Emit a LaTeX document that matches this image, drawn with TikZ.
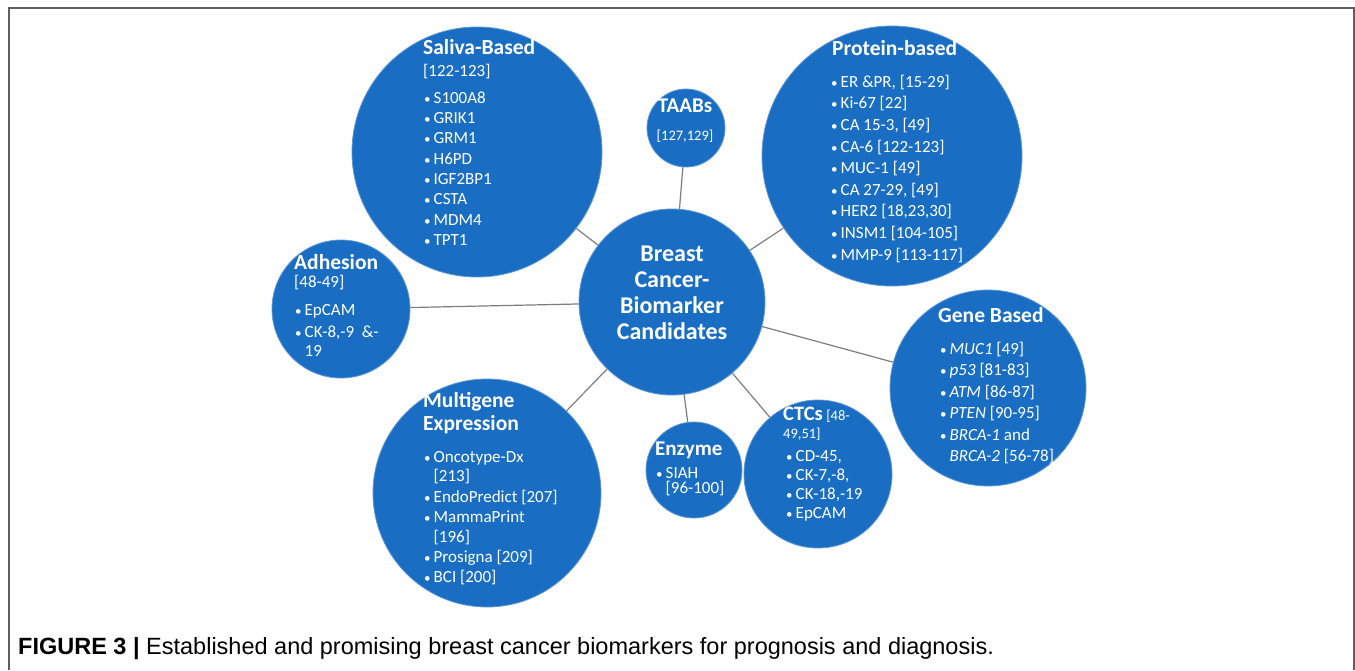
\documentclass[tikz,border=0pt]{standalone}
\usepackage{fontspec}
\setmainfont{Carlito}
\newfontfamily\capfont{Liberation Sans}
\definecolor{bub}{RGB}{25,110,195}
\definecolor{bubedge}{RGB}{95,150,210}
\definecolor{conn}{RGB}{125,125,125}
\definecolor{frm}{RGB}{95,95,95}
\newcommand\bul{\makebox[9.5pt][l]{\fontsize{13}{13}\selectfont\textbullet}}
\begin{document}
\begin{tikzpicture}[x=1pt,y=-1pt,
  bubble/.style={circle,fill=bub,draw=bubedge,line width=0.8pt,inner sep=0,minimum size=#1},
  link/.style={draw=conn,line width=1.2pt},
  txt/.style={inner sep=0,text=white},
  ttl/.style={txt,anchor=mid west,font=\fontsize{21.5}{24}\selectfont\bfseries},
  itm/.style={txt,anchor=mid west,font=\fontsize{17}{20}\selectfont},
  sml/.style={txt,font=\fontsize{14.5}{16}\selectfont},
  ctrtxt/.style={txt,anchor=mid,font=\fontsize{24}{26}\selectfont\bfseries}
]
\useasboundingbox (0,0) rectangle (1355,670);
\draw[frm,line width=1.5pt] (9,670) -- (9,8) -- (1354,8) -- (1354,670);

% bubbles
\node[bubble=186] (ctr) at (672,302) {};
\node[bubble=250] (sal) at (477,152) {};
\node[bubble=260] (pro) at (892,156) {};
\node[bubble=78]  (taab) at (686,128) {};
\node[bubble=138] (adh) at (341,309) {};
\node[bubble=196] (gene) at (988,388) {};
\node[bubble=228] (mul) at (487,493) {};
\node[bubble=96]  (enz) at (694,470) {};
\node[bubble=148] (ctc) at (818,474) {};

% connectors
\foreach \b in {sal,pro,taab,adh,gene,mul,enz,ctc}
  \draw[link] (ctr) -- (\b);

% centre
\node[ctrtxt] (c1) at (672,259) {Breast};
\node[ctrtxt] (c2) at (672,285) {Cancer-};
\node[ctrtxt] (c3) at (672,311) {Biomarker};
\node[ctrtxt] (c4) at (672,337) {Candidates};

% saliva
\node[ttl] (salt) at (423,52) {Saliva-Based};
\node[itm] (salr) at (423,74) {[122-123]};
\foreach \t [count=\k from 0] in {S100A8,GRIK1,GRM1,H6PD,IGF2BP1,CSTA,MDM4,TPT1}
  \node[itm] (sal-\k) at (424,{101+20.3*\k}) {\bul\t};

% protein
\node[ttl] (prot) at (832,53) {Protein-based};
\foreach \t [count=\k from 0] in {{ER \&PR, [15-29]},{Ki-67 [22]},{CA 15-3, [49]},{CA-6 [122-123]},{MUC-1 [49]},{CA 27-29, [49]},{HER2 [18,23,30]},{INSM1 [104-105]},{MMP-9 [113-117]}}
  \node[itm] (pro-\k) at (831,{85+21.6*\k}) {\bul\t};

% TAABs
\node[txt,anchor=mid,font=\fontsize{21}{24}\selectfont\bfseries] (taabt) at (685,110) {TAABs};
\node[sml,anchor=mid] (taabr) at (685,138) {[127,129]};

% adhesion
\node[ttl] (adht) at (294,267) {Adhesion};
\node[itm] (adhr) at (294,285) {[48-49]};
\node[itm] (adh-1) at (295,313) {\bul EpCAM};
\node[itm] (adh-2) at (295,335) {\bul CK-8,-9~~\&-};
\node[itm] (adh-3) at (304.5,354) {19};

% gene based
\node[ttl] (genet) at (938,320) {Gene Based};
\node[itm] (gene-1) at (940,352) {\bul{\itshape MUC1} [49]};
\node[itm] (gene-2) at (940,373.5) {\bul{\itshape p53} [81-83]};
\node[itm] (gene-3) at (940,395) {\bul{\itshape ATM} [86-87]};
\node[itm] (gene-4) at (940,416.5) {\bul{\itshape PTEN} [90-95]};
\node[itm] (gene-5) at (940,438) {\bul{\itshape BRCA-1} and};
\node[itm] (gene-6) at (949.5,459) {{\itshape BRCA-2} [56-78]};

% multigene
\node[ttl] (mult1) at (423,405) {Multigene};
\node[ttl] (mult2) at (423,428) {Expression};
\node[itm] (mul-1) at (424,460) {\bul Oncotype-Dx};
\node[itm] (mul-2) at (433.5,479) {[213]};
\node[itm] (mul-3) at (424,500) {\bul EndoPredict [207]};
\node[itm] (mul-4) at (424,520) {\bul MammaPrint};
\node[itm] (mul-5) at (433.5,540) {[196]};
\node[itm] (mul-6) at (424,560) {\bul Prosigna [209]};
\node[itm] (mul-7) at (424,580) {\bul BCI [200]};

% enzyme
\node[txt,anchor=mid west,font=\fontsize{21}{24}\selectfont\bfseries] (enzt) at (655,453) {Enzyme};
\node[itm] (enz-1) at (656,476) {\bul SIAH};
\node[itm] (enz-2) at (665.5,491) {[96-100]};

% CTCs
\node[txt,anchor=mid west,font=\fontsize{20.5}{24}\selectfont\bfseries] (ctct) at (783,418) {CTCs};
\node[sml,anchor=mid west] (ctcr1) at ([xshift=3pt]ctct.mid east) {[48-};
\node[sml,anchor=mid west] (ctcr2) at (783,436) {49,51]};
\node[itm] (ctc-1) at (786,459) {\bul CD-45,};
\node[itm] (ctc-2) at (786,478) {\bul CK-7,-8,};
\node[itm] (ctc-3) at (786,497) {\bul CK-18,-19};
\node[itm] (ctc-4) at (786,516) {\bul EpCAM};

% caption
\node[anchor=mid west,inner sep=0,font=\capfont\fontsize{23.5}{26}\selectfont] (cap) at (18,652)
  {\textbf{FIGURE 3 |} Established and promising breast cancer biomarkers for prognosis and diagnosis.};
\end{tikzpicture}
\end{document}
